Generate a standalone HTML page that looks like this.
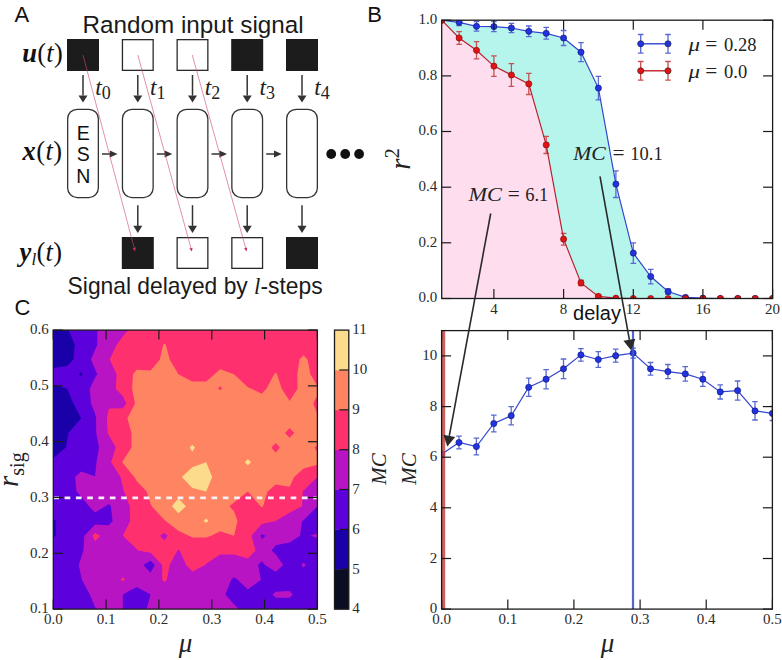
<!DOCTYPE html>
<html><head><meta charset="utf-8"><style>
html,body{margin:0;padding:0;background:#fff;}
svg{display:block;}
</style></head><body>
<svg width="782" height="660" viewBox="0 0 782 660">
<rect width="782" height="660" fill="#fff"/>
<rect x="53.3" y="330.1" width="264.1" height="279.0" fill="#5c00dc"/>
<path d="M89.8 594.4L95.0 607.0L97.0 609.1L108.9 609.1L122.8 609.1L122.8 594.4L122.8 594.4L136.7 587.1L150.6 594.4L150.6 594.4L150.6 594.4L146.6 609.1L150.6 609.1L164.5 609.1L178.4 609.1L192.3 609.1L206.2 609.1L220.1 609.1L234.0 609.1L238.6 609.1L234.0 604.2L225.3 594.4L231.2 579.7L234.0 577.3L237.5 579.7L247.9 589.5L260.9 579.7L258.1 565.0L261.8 561.2L265.0 565.0L275.7 571.8L283.3 565.0L275.7 554.3L271.5 550.4L275.7 545.2L289.6 542.5L300.0 535.7L302.2 521.0L303.5 520.3L317.4 506.3L317.4 506.3L317.4 491.6L317.4 476.9L317.4 462.3L317.4 447.6L317.4 432.9L317.4 418.2L317.4 403.5L317.4 388.8L317.4 374.2L317.4 359.5L317.4 344.8L317.4 330.1L303.5 330.1L289.6 330.1L275.7 330.1L261.8 330.1L247.9 330.1L234.0 330.1L220.1 330.1L206.2 330.1L192.3 330.1L178.4 330.1L164.5 330.1L150.6 330.1L136.7 330.1L122.8 330.1L108.9 330.1L97.3 330.1L97.3 344.8L95.0 349.7L91.0 359.5L95.0 369.3L97.3 374.2L95.0 377.8L89.8 388.8L91.0 403.5L95.0 413.3L96.1 418.2L96.2 432.9L99.0 447.6L96.5 462.3L95.0 476.2L81.1 471.4L75.1 476.9L76.5 491.6L81.1 496.5L89.0 506.3L95.0 512.6L105.4 506.3L108.9 503.9L110.9 506.3L112.6 521.0L108.9 525.2L95.0 524.4L84.4 535.7L83.4 550.4L81.1 557.7L78.8 565.0L81.1 576.3L81.9 579.7ZM150.6 572.7L143.3 565.0L150.6 560.7L154.7 565.0ZM261.8 539.1L260.5 535.7L261.8 534.2L265.6 535.7ZM272.5 594.4L275.7 597.8L289.6 597.8L292.8 594.4L289.6 591.0L275.7 591.8ZM301.2 565.0L303.5 567.5L305.8 565.0L303.5 562.6ZM310.4 535.7L317.4 538.1L317.4 535.7L317.4 533.2Z" fill="#b814c4" fill-rule="evenodd"/>
<path d="M120.5 579.7L122.8 581.1L125.1 579.7L122.8 577.3ZM162.2 579.7L164.5 582.2L166.8 579.7L169.7 565.0L177.4 550.4L178.4 549.8L179.7 550.4L186.1 565.0L192.3 571.6L205.2 565.0L206.2 563.7L220.1 554.6L234.0 554.6L247.9 558.4L255.5 550.4L251.5 535.7L261.8 524.0L275.7 521.0L275.7 521.0L289.6 512.8L302.0 506.3L302.8 491.6L303.5 490.5L317.4 476.9L317.4 476.9L317.4 462.3L317.4 447.6L317.4 432.9L317.4 418.2L317.4 403.5L317.4 388.8L317.4 374.2L317.4 359.5L317.4 344.8L317.4 330.1L303.5 330.1L289.6 330.1L275.7 330.1L261.8 330.1L247.9 330.1L234.0 330.1L220.1 330.1L206.2 330.1L192.3 330.1L178.4 330.1L164.5 330.1L150.6 330.1L136.7 330.1L128.0 330.1L122.8 336.4L116.6 344.8L109.7 359.5L116.6 374.2L115.8 388.8L122.8 396.2L126.3 403.5L122.8 408.2L108.9 408.4L106.8 418.2L107.7 432.9L108.9 435.3L115.8 447.6L111.1 462.3L120.5 476.9L122.8 486.7L124.1 491.6L129.8 506.3L130.2 521.0L122.8 535.7L136.7 549.0L138.0 550.4L150.6 552.7L162.2 565.0ZM164.5 540.6L159.9 535.7L164.5 533.1L167.6 535.7ZM92.5 535.7L95.0 541.2L100.2 535.7L95.0 533.1Z" fill="#ff306e" fill-rule="evenodd"/>
<path d="M188.8 535.7L192.3 537.5L206.2 537.5L211.3 535.7L220.1 531.3L234.0 535.7L237.5 521.0L234.0 511.2L229.4 506.3L234.0 502.6L247.9 491.6L247.9 491.6L247.9 491.6L260.5 506.3L261.8 507.3L263.1 506.3L267.5 491.6L275.7 484.4L289.6 486.7L294.2 476.9L303.5 468.6L317.4 464.7L317.4 462.3L317.4 452.5L314.6 447.6L317.4 445.1L317.4 432.9L317.4 418.2L317.4 414.1L313.2 403.5L317.4 395.2L317.4 388.8L317.4 385.9L310.4 374.2L307.5 359.5L303.5 355.3L299.5 359.5L297.3 374.2L297.5 388.8L289.6 401.1L281.7 388.8L277.0 374.2L275.7 372.5L274.2 374.2L266.4 388.8L261.8 393.7L251.4 388.8L247.9 387.2L234.0 374.2L234.0 374.2L220.1 369.3L214.5 374.2L206.2 381.5L192.3 381.5L178.4 374.2L178.4 374.2L169.7 359.5L165.8 344.8L164.5 343.4L163.2 344.8L159.9 359.5L150.6 370.5L136.7 369.7L133.0 374.2L132.1 388.8L135.0 403.5L127.4 418.2L131.5 432.9L131.5 447.6L122.8 460.9L122.2 462.3L122.8 463.0L134.2 476.9L136.7 481.1L146.6 491.6L150.6 503.4L151.7 506.3L164.5 519.9L165.6 521.0L178.4 530.8ZM220.1 390.2L218.1 388.8L220.1 385.9L222.1 388.8ZM275.7 452.8L271.5 447.6L275.7 443.1L279.9 447.6ZM289.6 437.8L285.0 432.9L289.6 428.0L294.2 432.9Z" fill="#ff8462" fill-rule="evenodd"/>
<path d="M203.5 521.0L206.2 522.7L208.5 521.0L206.2 518.5ZM171.9 506.3L178.4 513.2L185.9 506.3L178.4 498.4ZM181.9 476.9L192.3 488.0L206.2 491.6L212.2 476.9L206.2 462.3L192.3 467.2ZM244.7 462.3L247.9 465.2L251.1 462.3L247.9 458.9ZM189.6 447.6L192.3 451.8L195.0 447.6L192.3 444.7Z" fill="#fcdc8c" fill-rule="evenodd"/>
<path d="M53.3 535.7L53.3 538.1L55.6 535.7L55.6 521.0L53.3 518.5L53.3 521.0ZM53.3 447.6L53.3 458.1L65.9 447.6L67.2 440.2L68.5 432.9L81.1 418.2L81.1 418.2L81.1 418.2L73.4 403.5L67.2 388.8L67.2 388.8L53.3 384.6L53.3 388.8L53.3 403.5L53.3 418.2L53.3 432.9ZM78.8 374.2L81.1 376.6L82.5 374.2L81.1 371.7ZM53.3 359.5L53.3 368.0L67.2 366.0L73.4 359.5L74.8 344.8L68.5 330.1L67.2 330.1L53.3 330.1L53.3 344.8Z" fill="#1a00a8" fill-rule="evenodd"/>
<line x1="53.3" y1="497.9" x2="317.4" y2="497.9" stroke="#f6f0f6" stroke-width="2.6" stroke-dasharray="5.7 5.6"/>
<rect x="53.3" y="330.1" width="264.1" height="279.0" fill="none" stroke="#1a1a1a" stroke-width="1.3"/>
<line x1="53.3" y1="609.1" x2="53.3" y2="599.6" stroke="#1a1a1a" stroke-width="1.2"/>
<line x1="53.3" y1="330.1" x2="53.3" y2="339.6" stroke="#1a1a1a" stroke-width="1.2"/>
<text x="53.30" y="623.80" font-family='"Liberation Serif", serif' font-size="15" text-anchor="middle"  font-weight="normal" fill="#2a2a2a" >0.0</text>
<line x1="106.1" y1="609.1" x2="106.1" y2="599.6" stroke="#1a1a1a" stroke-width="1.2"/>
<line x1="106.1" y1="330.1" x2="106.1" y2="339.6" stroke="#1a1a1a" stroke-width="1.2"/>
<text x="106.12" y="623.80" font-family='"Liberation Serif", serif' font-size="15" text-anchor="middle"  font-weight="normal" fill="#2a2a2a" >0.1</text>
<line x1="158.9" y1="609.1" x2="158.9" y2="599.6" stroke="#1a1a1a" stroke-width="1.2"/>
<line x1="158.9" y1="330.1" x2="158.9" y2="339.6" stroke="#1a1a1a" stroke-width="1.2"/>
<text x="158.94" y="623.80" font-family='"Liberation Serif", serif' font-size="15" text-anchor="middle"  font-weight="normal" fill="#2a2a2a" >0.2</text>
<line x1="211.8" y1="609.1" x2="211.8" y2="599.6" stroke="#1a1a1a" stroke-width="1.2"/>
<line x1="211.8" y1="330.1" x2="211.8" y2="339.6" stroke="#1a1a1a" stroke-width="1.2"/>
<text x="211.76" y="623.80" font-family='"Liberation Serif", serif' font-size="15" text-anchor="middle"  font-weight="normal" fill="#2a2a2a" >0.3</text>
<line x1="264.6" y1="609.1" x2="264.6" y2="599.6" stroke="#1a1a1a" stroke-width="1.2"/>
<line x1="264.6" y1="330.1" x2="264.6" y2="339.6" stroke="#1a1a1a" stroke-width="1.2"/>
<text x="264.58" y="623.80" font-family='"Liberation Serif", serif' font-size="15" text-anchor="middle"  font-weight="normal" fill="#2a2a2a" >0.4</text>
<line x1="317.4" y1="609.1" x2="317.4" y2="599.6" stroke="#1a1a1a" stroke-width="1.2"/>
<line x1="317.4" y1="330.1" x2="317.4" y2="339.6" stroke="#1a1a1a" stroke-width="1.2"/>
<text x="317.40" y="623.80" font-family='"Liberation Serif", serif' font-size="15" text-anchor="middle"  font-weight="normal" fill="#2a2a2a" >0.5</text>
<line x1="53.3" y1="609.1" x2="62.8" y2="609.1" stroke="#1a1a1a" stroke-width="1.2"/>
<line x1="317.4" y1="609.1" x2="307.9" y2="609.1" stroke="#1a1a1a" stroke-width="1.2"/>
<text x="48.80" y="613.40" font-family='"Liberation Serif", serif' font-size="15" text-anchor="end"  font-weight="normal" fill="#2a2a2a" >0.1</text>
<line x1="53.3" y1="553.3" x2="62.8" y2="553.3" stroke="#1a1a1a" stroke-width="1.2"/>
<line x1="317.4" y1="553.3" x2="307.9" y2="553.3" stroke="#1a1a1a" stroke-width="1.2"/>
<text x="48.80" y="557.60" font-family='"Liberation Serif", serif' font-size="15" text-anchor="end"  font-weight="normal" fill="#2a2a2a" >0.2</text>
<line x1="53.3" y1="497.5" x2="62.8" y2="497.5" stroke="#1a1a1a" stroke-width="1.2"/>
<line x1="317.4" y1="497.5" x2="307.9" y2="497.5" stroke="#1a1a1a" stroke-width="1.2"/>
<text x="48.80" y="501.80" font-family='"Liberation Serif", serif' font-size="15" text-anchor="end"  font-weight="normal" fill="#2a2a2a" >0.3</text>
<line x1="53.3" y1="441.7" x2="62.8" y2="441.7" stroke="#1a1a1a" stroke-width="1.2"/>
<line x1="317.4" y1="441.7" x2="307.9" y2="441.7" stroke="#1a1a1a" stroke-width="1.2"/>
<text x="48.80" y="446.00" font-family='"Liberation Serif", serif' font-size="15" text-anchor="end"  font-weight="normal" fill="#2a2a2a" >0.4</text>
<line x1="53.3" y1="385.9" x2="62.8" y2="385.9" stroke="#1a1a1a" stroke-width="1.2"/>
<line x1="317.4" y1="385.9" x2="307.9" y2="385.9" stroke="#1a1a1a" stroke-width="1.2"/>
<text x="48.80" y="390.20" font-family='"Liberation Serif", serif' font-size="15" text-anchor="end"  font-weight="normal" fill="#2a2a2a" >0.5</text>
<line x1="53.3" y1="330.1" x2="62.8" y2="330.1" stroke="#1a1a1a" stroke-width="1.2"/>
<line x1="317.4" y1="330.1" x2="307.9" y2="330.1" stroke="#1a1a1a" stroke-width="1.2"/>
<text x="48.80" y="334.40" font-family='"Liberation Serif", serif' font-size="15" text-anchor="end"  font-weight="normal" fill="#2a2a2a" >0.6</text>
<rect x="334.5" y="569.2" width="14.3" height="40.2" fill="#0b0d22"/>
<rect x="334.5" y="529.4" width="14.3" height="40.2" fill="#1a00a8"/>
<rect x="334.5" y="489.5" width="14.3" height="40.2" fill="#5c00dc"/>
<rect x="334.5" y="449.7" width="14.3" height="40.2" fill="#b814c4"/>
<rect x="334.5" y="409.8" width="14.3" height="40.2" fill="#ff306e"/>
<rect x="334.5" y="370.0" width="14.3" height="40.2" fill="#ff8462"/>
<rect x="334.5" y="330.1" width="14.3" height="40.2" fill="#fcdc8c"/>
<rect x="334.5" y="330.1" width="14.3" height="279.0" fill="none" stroke="#1a1a1a" stroke-width="1.3"/>
<text x="352.30" y="613.40" font-family='"Liberation Serif", serif' font-size="15" text-anchor="start"  font-weight="normal" fill="#2a2a2a" >4</text>
<line x1="339.3" y1="569.2" x2="348.8" y2="569.2" stroke="#1a1a1a" stroke-width="1.2"/>
<text x="352.30" y="573.54" font-family='"Liberation Serif", serif' font-size="15" text-anchor="start"  font-weight="normal" fill="#2a2a2a" >5</text>
<line x1="339.3" y1="529.4" x2="348.8" y2="529.4" stroke="#1a1a1a" stroke-width="1.2"/>
<text x="352.30" y="533.69" font-family='"Liberation Serif", serif' font-size="15" text-anchor="start"  font-weight="normal" fill="#2a2a2a" >6</text>
<line x1="339.3" y1="489.5" x2="348.8" y2="489.5" stroke="#1a1a1a" stroke-width="1.2"/>
<text x="352.30" y="493.83" font-family='"Liberation Serif", serif' font-size="15" text-anchor="start"  font-weight="normal" fill="#2a2a2a" >7</text>
<line x1="339.3" y1="449.7" x2="348.8" y2="449.7" stroke="#1a1a1a" stroke-width="1.2"/>
<text x="352.30" y="453.97" font-family='"Liberation Serif", serif' font-size="15" text-anchor="start"  font-weight="normal" fill="#2a2a2a" >8</text>
<line x1="339.3" y1="409.8" x2="348.8" y2="409.8" stroke="#1a1a1a" stroke-width="1.2"/>
<text x="352.30" y="414.11" font-family='"Liberation Serif", serif' font-size="15" text-anchor="start"  font-weight="normal" fill="#2a2a2a" >9</text>
<line x1="339.3" y1="370.0" x2="348.8" y2="370.0" stroke="#1a1a1a" stroke-width="1.2"/>
<text x="352.30" y="374.26" font-family='"Liberation Serif", serif' font-size="15" text-anchor="start"  font-weight="normal" fill="#2a2a2a" >10</text>
<text x="352.30" y="334.40" font-family='"Liberation Serif", serif' font-size="15" text-anchor="start"  font-weight="normal" fill="#2a2a2a" >11</text>
<text x="0.00" y="0.00" font-family='"Liberation Serif", serif' font-size="1" text-anchor="start"  font-weight="normal" fill="#222" ></text>
<text transform="translate(385.5,469) rotate(-90)" font-family='"Liberation Serif", serif' font-size="21" font-style="italic" text-anchor="middle" fill="#222">MC</text>
<text x="185.5" y="652.2" font-family='"Liberation Serif", serif' font-size="27" font-style="italic" text-anchor="middle" fill="#222">μ</text>
<text transform="translate(17.5,487) rotate(-90)" font-family='"Liberation Serif", serif' font-size="29" fill="#222"><tspan font-style="italic">r</tspan><tspan font-size="20" dy="6">sig</tspan></text>
<text x="14.50" y="314.50" font-family='"Liberation Sans", sans-serif' font-size="22" text-anchor="start"  font-weight="normal" fill="#111" >C</text>
<defs><clipPath id="clipB"><rect x="441.7" y="20.2" width="330.9" height="278.3"/></clipPath><clipPath id="clipD"><rect x="441.6" y="330.6" width="330.8" height="278.5"/></clipPath></defs>
<g clip-path="url(#clipB)">
<polygon points="441.7,20.2 459.1,38.0 476.5,50.3 493.9,66.1 511.4,75.0 528.8,83.9 546.2,144.9 563.6,239.2 581.0,282.9 598.4,296.4 615.9,298.2 633.3,298.5 650.7,298.5 668.1,298.5 685.5,298.5 702.9,298.5 720.4,298.5 737.8,298.5 755.2,298.5 772.6,298.5 772.6,298.5 441.7,298.5" fill="#fedeee"/>
<polygon points="441.7,20.2 459.1,22.3 476.5,26.3 493.9,26.6 511.4,28.0 528.8,31.3 546.2,33.3 563.6,38.0 581.0,52.2 598.4,88.1 615.9,184.1 633.3,253.1 650.7,276.5 668.1,291.5 685.5,297.4 702.9,298.2 720.4,298.5 737.8,298.5 755.2,298.5 772.6,298.5 772.6,298.5 755.2,298.5 737.8,298.5 720.4,298.5 702.9,298.5 685.5,298.5 668.1,298.5 650.7,298.5 633.3,298.5 615.9,298.2 598.4,296.4 581.0,282.9 563.6,239.2 546.2,144.9 528.8,83.9 511.4,75.0 493.9,66.1 476.5,50.3 459.1,38.0 441.7,20.2" fill="#b6f5ec"/>
<path d="M459.1 18.9V25.6M456.3 18.9h5.6M456.3 25.6h5.6" stroke="#5a6ad2" stroke-width="1.3" fill="none"/>
<path d="M476.5 21.6V31.1M473.7 21.6h5.6M473.7 31.1h5.6" stroke="#5a6ad2" stroke-width="1.3" fill="none"/>
<path d="M493.9 21.6V31.6M491.1 21.6h5.6M491.1 31.6h5.6" stroke="#5a6ad2" stroke-width="1.3" fill="none"/>
<path d="M511.4 23.3V32.7M508.6 23.3h5.6M508.6 32.7h5.6" stroke="#5a6ad2" stroke-width="1.3" fill="none"/>
<path d="M528.8 26.0V36.6M526.0 26.0h5.6M526.0 36.6h5.6" stroke="#5a6ad2" stroke-width="1.3" fill="none"/>
<path d="M546.2 27.4V39.1M543.4 27.4h5.6M543.4 39.1h5.6" stroke="#5a6ad2" stroke-width="1.3" fill="none"/>
<path d="M563.6 30.5V45.5M560.8 30.5h5.6M560.8 45.5h5.6" stroke="#5a6ad2" stroke-width="1.3" fill="none"/>
<path d="M581.0 42.7V61.7M578.2 42.7h5.6M578.2 61.7h5.6" stroke="#5a6ad2" stroke-width="1.3" fill="none"/>
<path d="M598.4 76.4V99.8M595.6 76.4h5.6M595.6 99.8h5.6" stroke="#5a6ad2" stroke-width="1.3" fill="none"/>
<path d="M615.9 170.8V197.5M613.1 170.8h5.6M613.1 197.5h5.6" stroke="#5a6ad2" stroke-width="1.3" fill="none"/>
<path d="M633.3 242.8V263.4M630.5 242.8h5.6M630.5 263.4h5.6" stroke="#5a6ad2" stroke-width="1.3" fill="none"/>
<path d="M650.7 269.3V283.8M647.9 269.3h5.6M647.9 283.8h5.6" stroke="#5a6ad2" stroke-width="1.3" fill="none"/>
<path d="M668.1 288.8V294.3M665.3 288.8h5.6M665.3 294.3h5.6" stroke="#5a6ad2" stroke-width="1.3" fill="none"/>
<path d="M685.5 296.3V298.5M682.7 296.3h5.6M682.7 298.5h5.6" stroke="#5a6ad2" stroke-width="1.3" fill="none"/>
<polyline points="441.7,20.2 459.1,22.3 476.5,26.3 493.9,26.6 511.4,28.0 528.8,31.3 546.2,33.3 563.6,38.0 581.0,52.2 598.4,88.1 615.9,184.1 633.3,253.1 650.7,276.5 668.1,291.5 685.5,297.4 702.9,298.2 720.4,298.5 737.8,298.5 755.2,298.5 772.6,298.5" fill="none" stroke="#3446d0" stroke-width="1.2"/>
<circle cx="441.7" cy="20.2" r="3.1" fill="#2233e0" stroke="#0a1070" stroke-width="0.6"/>
<circle cx="459.1" cy="22.3" r="3.1" fill="#2233e0" stroke="#0a1070" stroke-width="0.6"/>
<circle cx="476.5" cy="26.3" r="3.1" fill="#2233e0" stroke="#0a1070" stroke-width="0.6"/>
<circle cx="493.9" cy="26.6" r="3.1" fill="#2233e0" stroke="#0a1070" stroke-width="0.6"/>
<circle cx="511.4" cy="28.0" r="3.1" fill="#2233e0" stroke="#0a1070" stroke-width="0.6"/>
<circle cx="528.8" cy="31.3" r="3.1" fill="#2233e0" stroke="#0a1070" stroke-width="0.6"/>
<circle cx="546.2" cy="33.3" r="3.1" fill="#2233e0" stroke="#0a1070" stroke-width="0.6"/>
<circle cx="563.6" cy="38.0" r="3.1" fill="#2233e0" stroke="#0a1070" stroke-width="0.6"/>
<circle cx="581.0" cy="52.2" r="3.1" fill="#2233e0" stroke="#0a1070" stroke-width="0.6"/>
<circle cx="598.4" cy="88.1" r="3.1" fill="#2233e0" stroke="#0a1070" stroke-width="0.6"/>
<circle cx="615.9" cy="184.1" r="3.1" fill="#2233e0" stroke="#0a1070" stroke-width="0.6"/>
<circle cx="633.3" cy="253.1" r="3.1" fill="#2233e0" stroke="#0a1070" stroke-width="0.6"/>
<circle cx="650.7" cy="276.5" r="3.1" fill="#2233e0" stroke="#0a1070" stroke-width="0.6"/>
<circle cx="668.1" cy="291.5" r="3.1" fill="#2233e0" stroke="#0a1070" stroke-width="0.6"/>
<circle cx="685.5" cy="297.4" r="3.1" fill="#2233e0" stroke="#0a1070" stroke-width="0.6"/>
<circle cx="702.9" cy="298.2" r="3.1" fill="#2233e0" stroke="#0a1070" stroke-width="0.6"/>
<circle cx="720.4" cy="298.5" r="3.1" fill="#2233e0" stroke="#0a1070" stroke-width="0.6"/>
<circle cx="737.8" cy="298.5" r="3.1" fill="#2233e0" stroke="#0a1070" stroke-width="0.6"/>
<circle cx="755.2" cy="298.5" r="3.1" fill="#2233e0" stroke="#0a1070" stroke-width="0.6"/>
<circle cx="772.6" cy="298.5" r="3.1" fill="#2233e0" stroke="#0a1070" stroke-width="0.6"/>
<path d="M459.1 31.6V44.4M456.3 31.6h5.6M456.3 44.4h5.6" stroke="#c85050" stroke-width="1.3" fill="none"/>
<path d="M476.5 41.6V58.9M473.7 41.6h5.6M473.7 58.9h5.6" stroke="#c85050" stroke-width="1.3" fill="none"/>
<path d="M493.9 55.8V76.4M491.1 55.8h5.6M491.1 76.4h5.6" stroke="#c85050" stroke-width="1.3" fill="none"/>
<path d="M511.4 63.6V86.4M508.6 63.6h5.6M508.6 86.4h5.6" stroke="#c85050" stroke-width="1.3" fill="none"/>
<path d="M528.8 73.4V94.5M526.0 73.4h5.6M526.0 94.5h5.6" stroke="#c85050" stroke-width="1.3" fill="none"/>
<path d="M546.2 136.3V153.5M543.4 136.3h5.6M543.4 153.5h5.6" stroke="#c85050" stroke-width="1.3" fill="none"/>
<path d="M563.6 233.4V245.1M560.8 233.4h5.6M560.8 245.1h5.6" stroke="#c85050" stroke-width="1.3" fill="none"/>
<path d="M581.0 280.1V285.7M578.2 280.1h5.6M578.2 285.7h5.6" stroke="#c85050" stroke-width="1.3" fill="none"/>
<path d="M598.4 295.3V297.5M595.6 295.3h5.6M595.6 297.5h5.6" stroke="#c85050" stroke-width="1.3" fill="none"/>
<polyline points="441.7,20.2 459.1,38.0 476.5,50.3 493.9,66.1 511.4,75.0 528.8,83.9 546.2,144.9 563.6,239.2 581.0,282.9 598.4,296.4 615.9,298.2 633.3,298.5 650.7,298.5 668.1,298.5 685.5,298.5 702.9,298.5 720.4,298.5 737.8,298.5 755.2,298.5 772.6,298.5" fill="none" stroke="#b82030" stroke-width="1.2"/>
<circle cx="441.7" cy="20.2" r="3.1" fill="#e01414" stroke="#7a0a0a" stroke-width="0.6"/>
<circle cx="459.1" cy="38.0" r="3.1" fill="#e01414" stroke="#7a0a0a" stroke-width="0.6"/>
<circle cx="476.5" cy="50.3" r="3.1" fill="#e01414" stroke="#7a0a0a" stroke-width="0.6"/>
<circle cx="493.9" cy="66.1" r="3.1" fill="#e01414" stroke="#7a0a0a" stroke-width="0.6"/>
<circle cx="511.4" cy="75.0" r="3.1" fill="#e01414" stroke="#7a0a0a" stroke-width="0.6"/>
<circle cx="528.8" cy="83.9" r="3.1" fill="#e01414" stroke="#7a0a0a" stroke-width="0.6"/>
<circle cx="546.2" cy="144.9" r="3.1" fill="#e01414" stroke="#7a0a0a" stroke-width="0.6"/>
<circle cx="563.6" cy="239.2" r="3.1" fill="#e01414" stroke="#7a0a0a" stroke-width="0.6"/>
<circle cx="581.0" cy="282.9" r="3.1" fill="#e01414" stroke="#7a0a0a" stroke-width="0.6"/>
<circle cx="598.4" cy="296.4" r="3.1" fill="#e01414" stroke="#7a0a0a" stroke-width="0.6"/>
<circle cx="615.9" cy="298.2" r="3.1" fill="#e01414" stroke="#7a0a0a" stroke-width="0.6"/>
<circle cx="633.3" cy="298.5" r="3.1" fill="#e01414" stroke="#7a0a0a" stroke-width="0.6"/>
<circle cx="650.7" cy="298.5" r="3.1" fill="#e01414" stroke="#7a0a0a" stroke-width="0.6"/>
<circle cx="668.1" cy="298.5" r="3.1" fill="#e01414" stroke="#7a0a0a" stroke-width="0.6"/>
<circle cx="685.5" cy="298.5" r="3.1" fill="#e01414" stroke="#7a0a0a" stroke-width="0.6"/>
<circle cx="702.9" cy="298.5" r="3.1" fill="#e01414" stroke="#7a0a0a" stroke-width="0.6"/>
<circle cx="720.4" cy="298.5" r="3.1" fill="#e01414" stroke="#7a0a0a" stroke-width="0.6"/>
<circle cx="737.8" cy="298.5" r="3.1" fill="#e01414" stroke="#7a0a0a" stroke-width="0.6"/>
<circle cx="755.2" cy="298.5" r="3.1" fill="#e01414" stroke="#7a0a0a" stroke-width="0.6"/>
<circle cx="772.6" cy="298.5" r="3.1" fill="#e01414" stroke="#7a0a0a" stroke-width="0.6"/>
</g>
<rect x="441.7" y="20.2" width="330.9" height="278.3" fill="none" stroke="#1a1a1a" stroke-width="1.3"/>
<line x1="441.7" y1="298.5" x2="451.2" y2="298.5" stroke="#1a1a1a" stroke-width="1.2"/>
<line x1="772.6" y1="298.5" x2="763.1" y2="298.5" stroke="#1a1a1a" stroke-width="1.2"/>
<text x="437.20" y="302.40" font-family='"Liberation Serif", serif' font-size="15" text-anchor="end"  font-weight="normal" fill="#2a2a2a" >0.0</text>
<line x1="441.7" y1="242.8" x2="451.2" y2="242.8" stroke="#1a1a1a" stroke-width="1.2"/>
<line x1="772.6" y1="242.8" x2="763.1" y2="242.8" stroke="#1a1a1a" stroke-width="1.2"/>
<text x="437.20" y="246.74" font-family='"Liberation Serif", serif' font-size="15" text-anchor="end"  font-weight="normal" fill="#2a2a2a" >0.2</text>
<line x1="441.7" y1="187.2" x2="451.2" y2="187.2" stroke="#1a1a1a" stroke-width="1.2"/>
<line x1="772.6" y1="187.2" x2="763.1" y2="187.2" stroke="#1a1a1a" stroke-width="1.2"/>
<text x="437.20" y="191.08" font-family='"Liberation Serif", serif' font-size="15" text-anchor="end"  font-weight="normal" fill="#2a2a2a" >0.4</text>
<line x1="441.7" y1="131.5" x2="451.2" y2="131.5" stroke="#1a1a1a" stroke-width="1.2"/>
<line x1="772.6" y1="131.5" x2="763.1" y2="131.5" stroke="#1a1a1a" stroke-width="1.2"/>
<text x="437.20" y="135.42" font-family='"Liberation Serif", serif' font-size="15" text-anchor="end"  font-weight="normal" fill="#2a2a2a" >0.6</text>
<line x1="441.7" y1="75.9" x2="451.2" y2="75.9" stroke="#1a1a1a" stroke-width="1.2"/>
<line x1="772.6" y1="75.9" x2="763.1" y2="75.9" stroke="#1a1a1a" stroke-width="1.2"/>
<text x="437.20" y="79.76" font-family='"Liberation Serif", serif' font-size="15" text-anchor="end"  font-weight="normal" fill="#2a2a2a" >0.8</text>
<line x1="441.7" y1="20.2" x2="451.2" y2="20.2" stroke="#1a1a1a" stroke-width="1.2"/>
<line x1="772.6" y1="20.2" x2="763.1" y2="20.2" stroke="#1a1a1a" stroke-width="1.2"/>
<text x="437.20" y="24.10" font-family='"Liberation Serif", serif' font-size="15" text-anchor="end"  font-weight="normal" fill="#2a2a2a" >1.0</text>
<line x1="493.9" y1="298.5" x2="493.9" y2="289.0" stroke="#1a1a1a" stroke-width="1.2"/>
<line x1="493.9" y1="20.2" x2="493.9" y2="29.7" stroke="#1a1a1a" stroke-width="1.2"/>
<text x="493.95" y="313.50" font-family='"Liberation Serif", serif' font-size="15" text-anchor="middle"  font-weight="normal" fill="#2a2a2a" >4</text>
<line x1="563.6" y1="298.5" x2="563.6" y2="289.0" stroke="#1a1a1a" stroke-width="1.2"/>
<line x1="563.6" y1="20.2" x2="563.6" y2="29.7" stroke="#1a1a1a" stroke-width="1.2"/>
<text x="563.61" y="313.50" font-family='"Liberation Serif", serif' font-size="15" text-anchor="middle"  font-weight="normal" fill="#2a2a2a" >8</text>
<line x1="633.3" y1="298.5" x2="633.3" y2="289.0" stroke="#1a1a1a" stroke-width="1.2"/>
<line x1="633.3" y1="20.2" x2="633.3" y2="29.7" stroke="#1a1a1a" stroke-width="1.2"/>
<text x="633.27" y="313.50" font-family='"Liberation Serif", serif' font-size="15" text-anchor="middle"  font-weight="normal" fill="#2a2a2a" >12</text>
<line x1="702.9" y1="298.5" x2="702.9" y2="289.0" stroke="#1a1a1a" stroke-width="1.2"/>
<line x1="702.9" y1="20.2" x2="702.9" y2="29.7" stroke="#1a1a1a" stroke-width="1.2"/>
<text x="702.94" y="313.50" font-family='"Liberation Serif", serif' font-size="15" text-anchor="middle"  font-weight="normal" fill="#2a2a2a" >16</text>
<line x1="772.6" y1="298.5" x2="772.6" y2="289.0" stroke="#1a1a1a" stroke-width="1.2"/>
<line x1="772.6" y1="20.2" x2="772.6" y2="29.7" stroke="#1a1a1a" stroke-width="1.2"/>
<text x="772.60" y="313.50" font-family='"Liberation Serif", serif' font-size="15" text-anchor="middle"  font-weight="normal" fill="#2a2a2a" >20</text>
<text x="597.00" y="320.00" font-family='"Liberation Sans", sans-serif' font-size="20" text-anchor="middle"  font-weight="normal" fill="#111" >delay</text>
<text transform="translate(409.5,159) rotate(-90)" font-family='"Liberation Serif", serif' font-size="29" fill="#222" text-anchor="middle"><tspan font-style="italic">r</tspan><tspan font-size="20" dy="-11">2</tspan></text>
<text x="374.50" y="22.00" font-family='"Liberation Sans", sans-serif' font-size="22" text-anchor="middle"  font-weight="normal" fill="#111" >B</text>
<line x1="640.7" y1="43.8" x2="668" y2="43.8" stroke="#2a46d0" stroke-width="1.4"/>
<path d="M640.7 34.5V53.099999999999994M637.9000000000001 34.5h5.6M637.9000000000001 53.099999999999994h5.6" stroke="#5a6ad2" stroke-width="1.3"/>
<circle cx="640.7" cy="43.8" r="3.1" fill="#2233e0" stroke="#222" stroke-width="0.6"/>
<path d="M668 34.5V53.099999999999994M665.2 34.5h5.6M665.2 53.099999999999994h5.6" stroke="#5a6ad2" stroke-width="1.3"/>
<circle cx="668" cy="43.8" r="3.1" fill="#2233e0" stroke="#222" stroke-width="0.6"/>
<line x1="640.7" y1="70.8" x2="668" y2="70.8" stroke="#c02020" stroke-width="1.4"/>
<path d="M640.7 61.5V80.1M637.9000000000001 61.5h5.6M637.9000000000001 80.1h5.6" stroke="#c85050" stroke-width="1.3"/>
<circle cx="640.7" cy="70.8" r="3.1" fill="#e01414" stroke="#222" stroke-width="0.6"/>
<path d="M668 61.5V80.1M665.2 61.5h5.6M665.2 80.1h5.6" stroke="#c85050" stroke-width="1.3"/>
<circle cx="668" cy="70.8" r="3.1" fill="#e01414" stroke="#222" stroke-width="0.6"/>
<text x="688.6" y="51.3" font-family='"Liberation Serif", serif' font-size="19" font-style="italic" fill="#222" textLength="11.5" lengthAdjust="spacingAndGlyphs">μ</text>
<text x="705.3" y="51.3" font-family='"Liberation Serif", serif' font-size="20" fill="#222" textLength="12" lengthAdjust="spacingAndGlyphs">=</text>
<text x="724.0" y="51.3" font-family='"Liberation Serif", serif' font-size="18.5" fill="#222">0.28</text>
<text x="688.6" y="77.8" font-family='"Liberation Serif", serif' font-size="19" font-style="italic" fill="#222" textLength="11.5" lengthAdjust="spacingAndGlyphs">μ</text>
<text x="705.3" y="77.8" font-family='"Liberation Serif", serif' font-size="20" fill="#222" textLength="12" lengthAdjust="spacingAndGlyphs">=</text>
<text x="724.0" y="77.8" font-family='"Liberation Serif", serif' font-size="18.5" fill="#222">0.0</text>
<text x="468.5" y="201.3" font-family='"Liberation Serif", serif' font-size="19" font-style="italic" fill="#222" textLength="33.5" lengthAdjust="spacingAndGlyphs">MC</text>
<text x="507.8" y="201.3" font-family='"Liberation Serif", serif' font-size="20" fill="#222" textLength="12" lengthAdjust="spacingAndGlyphs">=</text>
<text x="525.2" y="201.3" font-family='"Liberation Serif", serif' font-size="18.5" fill="#222">6.1</text>
<text x="573.2" y="160" font-family='"Liberation Serif", serif' font-size="19" font-style="italic" fill="#222" textLength="32.5" lengthAdjust="spacingAndGlyphs">MC</text>
<text x="612.5" y="160" font-family='"Liberation Serif", serif' font-size="20" fill="#222" textLength="12" lengthAdjust="spacingAndGlyphs">=</text>
<text x="630.3" y="160" font-family='"Liberation Serif", serif' font-size="18.5" fill="#222">10.1</text>
<g clip-path="url(#clipD)">
<path d="M441.6 451.6V456.7M438.8 451.6h5.6M438.8 456.7h5.6" stroke="#5a6ad2" stroke-width="1.3" fill="none"/>
<path d="M459.0 436.2V448.8M456.2 436.2h5.6M456.2 448.8h5.6" stroke="#5a6ad2" stroke-width="1.3" fill="none"/>
<path d="M476.4 438.2V454.9M473.6 438.2h5.6M473.6 454.9h5.6" stroke="#5a6ad2" stroke-width="1.3" fill="none"/>
<path d="M493.8 415.2V431.9M491.0 415.2h5.6M491.0 431.9h5.6" stroke="#5a6ad2" stroke-width="1.3" fill="none"/>
<path d="M511.2 406.6V424.8M508.4 406.6h5.6M508.4 424.8h5.6" stroke="#5a6ad2" stroke-width="1.3" fill="none"/>
<path d="M528.7 378.2V396.4M525.9 378.2h5.6M525.9 396.4h5.6" stroke="#5a6ad2" stroke-width="1.3" fill="none"/>
<path d="M546.1 369.6V388.8M543.3 369.6h5.6M543.3 388.8h5.6" stroke="#5a6ad2" stroke-width="1.3" fill="none"/>
<path d="M563.5 359.0V378.7M560.7 359.0h5.6M560.7 378.7h5.6" stroke="#5a6ad2" stroke-width="1.3" fill="none"/>
<path d="M580.9 348.6V361.2M578.1 348.6h5.6M578.1 361.2h5.6" stroke="#5a6ad2" stroke-width="1.3" fill="none"/>
<path d="M598.3 351.6V367.3M595.5 351.6h5.6M595.5 367.3h5.6" stroke="#5a6ad2" stroke-width="1.3" fill="none"/>
<path d="M615.7 349.1V362.2M612.9 349.1h5.6M612.9 362.2h5.6" stroke="#5a6ad2" stroke-width="1.3" fill="none"/>
<path d="M633.1 348.1V358.2M630.3 348.1h5.6M630.3 358.2h5.6" stroke="#5a6ad2" stroke-width="1.3" fill="none"/>
<path d="M650.5 362.5V375.2M647.7 362.5h5.6M647.7 375.2h5.6" stroke="#5a6ad2" stroke-width="1.3" fill="none"/>
<path d="M667.9 364.5V378.7M665.1 364.5h5.6M665.1 378.7h5.6" stroke="#5a6ad2" stroke-width="1.3" fill="none"/>
<path d="M685.3 366.6V381.2M682.5 366.6h5.6M682.5 381.2h5.6" stroke="#5a6ad2" stroke-width="1.3" fill="none"/>
<path d="M702.8 372.1V386.3M700.0 372.1h5.6M700.0 386.3h5.6" stroke="#5a6ad2" stroke-width="1.3" fill="none"/>
<path d="M720.2 384.8V399.0M717.4 384.8h5.6M717.4 399.0h5.6" stroke="#5a6ad2" stroke-width="1.3" fill="none"/>
<path d="M737.6 381.0V400.2M734.8 381.0h5.6M734.8 400.2h5.6" stroke="#5a6ad2" stroke-width="1.3" fill="none"/>
<path d="M755.0 401.7V420.0M752.2 401.7h5.6M752.2 420.0h5.6" stroke="#5a6ad2" stroke-width="1.3" fill="none"/>
<path d="M772.4 406.3V420.5M769.6 406.3h5.6M769.6 420.5h5.6" stroke="#5a6ad2" stroke-width="1.3" fill="none"/>
<polyline points="441.6,454.2 459.0,442.5 476.4,446.6 493.8,423.5 511.2,415.7 528.7,387.3 546.1,379.2 563.5,368.8 580.9,354.9 598.3,359.5 615.7,355.7 633.1,353.1 650.5,368.8 667.9,371.6 685.3,373.9 702.8,379.2 720.2,391.9 737.6,390.6 755.0,410.9 772.4,413.4" fill="none" stroke="#3446d0" stroke-width="1.2"/>
<circle cx="441.6" cy="454.2" r="3.1" fill="#2233e0" stroke="#0a1070" stroke-width="0.6"/>
<circle cx="459.0" cy="442.5" r="3.1" fill="#2233e0" stroke="#0a1070" stroke-width="0.6"/>
<circle cx="476.4" cy="446.6" r="3.1" fill="#2233e0" stroke="#0a1070" stroke-width="0.6"/>
<circle cx="493.8" cy="423.5" r="3.1" fill="#2233e0" stroke="#0a1070" stroke-width="0.6"/>
<circle cx="511.2" cy="415.7" r="3.1" fill="#2233e0" stroke="#0a1070" stroke-width="0.6"/>
<circle cx="528.7" cy="387.3" r="3.1" fill="#2233e0" stroke="#0a1070" stroke-width="0.6"/>
<circle cx="546.1" cy="379.2" r="3.1" fill="#2233e0" stroke="#0a1070" stroke-width="0.6"/>
<circle cx="563.5" cy="368.8" r="3.1" fill="#2233e0" stroke="#0a1070" stroke-width="0.6"/>
<circle cx="580.9" cy="354.9" r="3.1" fill="#2233e0" stroke="#0a1070" stroke-width="0.6"/>
<circle cx="598.3" cy="359.5" r="3.1" fill="#2233e0" stroke="#0a1070" stroke-width="0.6"/>
<circle cx="615.7" cy="355.7" r="3.1" fill="#2233e0" stroke="#0a1070" stroke-width="0.6"/>
<circle cx="633.1" cy="353.1" r="3.1" fill="#2233e0" stroke="#0a1070" stroke-width="0.6"/>
<circle cx="650.5" cy="368.8" r="3.1" fill="#2233e0" stroke="#0a1070" stroke-width="0.6"/>
<circle cx="667.9" cy="371.6" r="3.1" fill="#2233e0" stroke="#0a1070" stroke-width="0.6"/>
<circle cx="685.3" cy="373.9" r="3.1" fill="#2233e0" stroke="#0a1070" stroke-width="0.6"/>
<circle cx="702.8" cy="379.2" r="3.1" fill="#2233e0" stroke="#0a1070" stroke-width="0.6"/>
<circle cx="720.2" cy="391.9" r="3.1" fill="#2233e0" stroke="#0a1070" stroke-width="0.6"/>
<circle cx="737.6" cy="390.6" r="3.1" fill="#2233e0" stroke="#0a1070" stroke-width="0.6"/>
<circle cx="755.0" cy="410.9" r="3.1" fill="#2233e0" stroke="#0a1070" stroke-width="0.6"/>
<circle cx="772.4" cy="413.4" r="3.1" fill="#2233e0" stroke="#0a1070" stroke-width="0.6"/>
</g>
<line x1="443.6" y1="330.6" x2="443.6" y2="609.1" stroke="#c84444" stroke-opacity="0.85" stroke-width="3.2"/>
<line x1="633" y1="330.6" x2="633" y2="609.1" stroke="#4055cc" stroke-opacity="0.9" stroke-width="2.2"/>
<rect x="441.6" y="330.6" width="330.8" height="278.5" fill="none" stroke="#1a1a1a" stroke-width="1.3"/>
<line x1="441.6" y1="609.1" x2="451.1" y2="609.1" stroke="#1a1a1a" stroke-width="1.2"/>
<line x1="772.4" y1="609.1" x2="762.9" y2="609.1" stroke="#1a1a1a" stroke-width="1.2"/>
<text x="437.20" y="613.40" font-family='"Liberation Serif", serif' font-size="15" text-anchor="end"  font-weight="normal" fill="#2a2a2a" >0</text>
<line x1="441.6" y1="558.5" x2="451.1" y2="558.5" stroke="#1a1a1a" stroke-width="1.2"/>
<line x1="772.4" y1="558.5" x2="762.9" y2="558.5" stroke="#1a1a1a" stroke-width="1.2"/>
<text x="437.20" y="562.76" font-family='"Liberation Serif", serif' font-size="15" text-anchor="end"  font-weight="normal" fill="#2a2a2a" >2</text>
<line x1="441.6" y1="507.8" x2="451.1" y2="507.8" stroke="#1a1a1a" stroke-width="1.2"/>
<line x1="772.4" y1="507.8" x2="762.9" y2="507.8" stroke="#1a1a1a" stroke-width="1.2"/>
<text x="437.20" y="512.13" font-family='"Liberation Serif", serif' font-size="15" text-anchor="end"  font-weight="normal" fill="#2a2a2a" >4</text>
<line x1="441.6" y1="457.2" x2="451.1" y2="457.2" stroke="#1a1a1a" stroke-width="1.2"/>
<line x1="772.4" y1="457.2" x2="762.9" y2="457.2" stroke="#1a1a1a" stroke-width="1.2"/>
<text x="437.20" y="461.49" font-family='"Liberation Serif", serif' font-size="15" text-anchor="end"  font-weight="normal" fill="#2a2a2a" >6</text>
<line x1="441.6" y1="406.6" x2="451.1" y2="406.6" stroke="#1a1a1a" stroke-width="1.2"/>
<line x1="772.4" y1="406.6" x2="762.9" y2="406.6" stroke="#1a1a1a" stroke-width="1.2"/>
<text x="437.20" y="410.85" font-family='"Liberation Serif", serif' font-size="15" text-anchor="end"  font-weight="normal" fill="#2a2a2a" >8</text>
<line x1="441.6" y1="355.9" x2="451.1" y2="355.9" stroke="#1a1a1a" stroke-width="1.2"/>
<line x1="772.4" y1="355.9" x2="762.9" y2="355.9" stroke="#1a1a1a" stroke-width="1.2"/>
<text x="437.20" y="360.22" font-family='"Liberation Serif", serif' font-size="15" text-anchor="end"  font-weight="normal" fill="#2a2a2a" >10</text>
<line x1="441.6" y1="609.1" x2="441.6" y2="599.6" stroke="#1a1a1a" stroke-width="1.2"/>
<line x1="441.6" y1="330.6" x2="441.6" y2="340.1" stroke="#1a1a1a" stroke-width="1.2"/>
<text x="441.60" y="623.80" font-family='"Liberation Serif", serif' font-size="15" text-anchor="middle"  font-weight="normal" fill="#2a2a2a" >0.0</text>
<line x1="507.8" y1="609.1" x2="507.8" y2="599.6" stroke="#1a1a1a" stroke-width="1.2"/>
<line x1="507.8" y1="330.6" x2="507.8" y2="340.1" stroke="#1a1a1a" stroke-width="1.2"/>
<text x="507.76" y="623.80" font-family='"Liberation Serif", serif' font-size="15" text-anchor="middle"  font-weight="normal" fill="#2a2a2a" >0.1</text>
<line x1="573.9" y1="609.1" x2="573.9" y2="599.6" stroke="#1a1a1a" stroke-width="1.2"/>
<line x1="573.9" y1="330.6" x2="573.9" y2="340.1" stroke="#1a1a1a" stroke-width="1.2"/>
<text x="573.92" y="623.80" font-family='"Liberation Serif", serif' font-size="15" text-anchor="middle"  font-weight="normal" fill="#2a2a2a" >0.2</text>
<line x1="640.1" y1="609.1" x2="640.1" y2="599.6" stroke="#1a1a1a" stroke-width="1.2"/>
<line x1="640.1" y1="330.6" x2="640.1" y2="340.1" stroke="#1a1a1a" stroke-width="1.2"/>
<text x="640.08" y="623.80" font-family='"Liberation Serif", serif' font-size="15" text-anchor="middle"  font-weight="normal" fill="#2a2a2a" >0.3</text>
<line x1="706.2" y1="609.1" x2="706.2" y2="599.6" stroke="#1a1a1a" stroke-width="1.2"/>
<line x1="706.2" y1="330.6" x2="706.2" y2="340.1" stroke="#1a1a1a" stroke-width="1.2"/>
<text x="706.24" y="623.80" font-family='"Liberation Serif", serif' font-size="15" text-anchor="middle"  font-weight="normal" fill="#2a2a2a" >0.4</text>
<line x1="772.4" y1="609.1" x2="772.4" y2="599.6" stroke="#1a1a1a" stroke-width="1.2"/>
<line x1="772.4" y1="330.6" x2="772.4" y2="340.1" stroke="#1a1a1a" stroke-width="1.2"/>
<text x="772.40" y="623.80" font-family='"Liberation Serif", serif' font-size="15" text-anchor="middle"  font-weight="normal" fill="#2a2a2a" >0.5</text>
<text transform="translate(416,469) rotate(-90)" font-family='"Liberation Serif", serif' font-size="21" font-style="italic" text-anchor="middle" fill="#222">MC</text>
<text x="607.5" y="652.2" font-family='"Liberation Serif", serif' font-size="27" font-style="italic" text-anchor="middle" fill="#222">μ</text>
<line x1="490.7" y1="213.5" x2="449.3" y2="435.8" stroke="#2a2a2a" stroke-width="1.6"/>
<polygon points="447.3,446.6 443.4,434.7 455.2,436.9" fill="#2a2a2a"/>
<line x1="600.0" y1="176.4" x2="629.4" y2="339.8" stroke="#2a2a2a" stroke-width="1.6"/>
<polygon points="631.3,350.6 623.4,340.8 635.3,338.7" fill="#2a2a2a"/>
<text x="14.60" y="22.20" font-family='"Liberation Sans", sans-serif' font-size="22" text-anchor="start"  font-weight="normal" fill="#111" >A</text>
<text x="82.60" y="33.00" font-family='"Liberation Sans", sans-serif' font-size="24.5" text-anchor="start"  font-weight="normal" fill="#1a1a1a" textLength="221" lengthAdjust="spacingAndGlyphs">Random input signal</text>
<text x="67.60" y="294.20" font-family='"Liberation Sans", sans-serif' font-size="24" text-anchor="start"  font-weight="normal" fill="#1a1a1a" textLength="255" lengthAdjust="spacingAndGlyphs">Signal delayed by <tspan font-family='"Liberation Serif", serif' font-style="italic">l</tspan>-steps</text>
<rect x="67" y="39" width="32" height="32" fill="#1c1c1c"/>
<rect x="122.45" y="39.65" width="30.7" height="30.7" fill="#fff" stroke="#2a2a2a" stroke-width="1.3"/>
<rect x="177.15" y="39.65" width="30.7" height="30.7" fill="#fff" stroke="#2a2a2a" stroke-width="1.3"/>
<rect x="231.2" y="39" width="32" height="32" fill="#1c1c1c"/>
<rect x="286" y="39" width="32" height="32" fill="#1c1c1c"/>
<line x1="83" y1="75" x2="83" y2="95.6" stroke="#333" stroke-width="1.5"/>
<polygon points="78.5,95.39999999999999 87.5,95.39999999999999 83,102.6" fill="#333"/>
<rect x="67.65" y="109.3" width="30.7" height="88.3" rx="9.5" fill="#fff" stroke="#333" stroke-width="1.3"/>
<line x1="102" y1="154" x2="110.5" y2="154" stroke="#333" stroke-width="1.5"/>
<polygon points="109.8,150.4 109.8,157.6 117.5,154" fill="#333"/>
<text x="95.20" y="94.50" font-family='"Liberation Serif", serif' font-size="23.5" text-anchor="start"  font-weight="normal" fill="#222" ><tspan font-style="italic">t</tspan><tspan font-size="18" dy="4.2">0</tspan></text>
<line x1="137.8" y1="75" x2="137.8" y2="95.6" stroke="#333" stroke-width="1.5"/>
<polygon points="133.3,95.39999999999999 142.3,95.39999999999999 137.8,102.6" fill="#333"/>
<rect x="122.45" y="109.3" width="30.7" height="88.3" rx="9.5" fill="#fff" stroke="#333" stroke-width="1.3"/>
<line x1="156.8" y1="154" x2="165.3" y2="154" stroke="#333" stroke-width="1.5"/>
<polygon points="164.60000000000002,150.4 164.60000000000002,157.6 172.3,154" fill="#333"/>
<line x1="137.8" y1="205.2" x2="137.8" y2="225.9" stroke="#333" stroke-width="1.5"/>
<polygon points="133.3,225.70000000000002 142.3,225.70000000000002 137.8,232.9" fill="#333"/>
<text x="150.00" y="94.50" font-family='"Liberation Serif", serif' font-size="23.5" text-anchor="start"  font-weight="normal" fill="#222" ><tspan font-style="italic">t</tspan><tspan font-size="18" dy="4.2">1</tspan></text>
<line x1="192.5" y1="75" x2="192.5" y2="95.6" stroke="#333" stroke-width="1.5"/>
<polygon points="188.0,95.39999999999999 197.0,95.39999999999999 192.5,102.6" fill="#333"/>
<rect x="177.15" y="109.3" width="30.7" height="88.3" rx="9.5" fill="#fff" stroke="#333" stroke-width="1.3"/>
<line x1="211.5" y1="154" x2="220.0" y2="154" stroke="#333" stroke-width="1.5"/>
<polygon points="219.3,150.4 219.3,157.6 227.0,154" fill="#333"/>
<line x1="192.5" y1="205.2" x2="192.5" y2="225.9" stroke="#333" stroke-width="1.5"/>
<polygon points="188.0,225.70000000000002 197.0,225.70000000000002 192.5,232.9" fill="#333"/>
<text x="204.70" y="94.50" font-family='"Liberation Serif", serif' font-size="23.5" text-anchor="start"  font-weight="normal" fill="#222" ><tspan font-style="italic">t</tspan><tspan font-size="18" dy="4.2">2</tspan></text>
<line x1="247.2" y1="75" x2="247.2" y2="95.6" stroke="#333" stroke-width="1.5"/>
<polygon points="242.7,95.39999999999999 251.7,95.39999999999999 247.2,102.6" fill="#333"/>
<rect x="231.85" y="109.3" width="30.7" height="88.3" rx="9.5" fill="#fff" stroke="#333" stroke-width="1.3"/>
<line x1="266.2" y1="154" x2="274.7" y2="154" stroke="#333" stroke-width="1.5"/>
<polygon points="274.0,150.4 274.0,157.6 281.7,154" fill="#333"/>
<line x1="247.2" y1="205.2" x2="247.2" y2="225.9" stroke="#333" stroke-width="1.5"/>
<polygon points="242.7,225.70000000000002 251.7,225.70000000000002 247.2,232.9" fill="#333"/>
<text x="259.40" y="94.50" font-family='"Liberation Serif", serif' font-size="23.5" text-anchor="start"  font-weight="normal" fill="#222" ><tspan font-style="italic">t</tspan><tspan font-size="18" dy="4.2">3</tspan></text>
<line x1="302" y1="75" x2="302" y2="95.6" stroke="#333" stroke-width="1.5"/>
<polygon points="297.5,95.39999999999999 306.5,95.39999999999999 302,102.6" fill="#333"/>
<rect x="286.65" y="109.3" width="30.7" height="88.3" rx="9.5" fill="#fff" stroke="#333" stroke-width="1.3"/>
<line x1="302" y1="205.2" x2="302" y2="225.9" stroke="#333" stroke-width="1.5"/>
<polygon points="297.5,225.70000000000002 306.5,225.70000000000002 302,232.9" fill="#333"/>
<text x="314.20" y="94.50" font-family='"Liberation Serif", serif' font-size="23.5" text-anchor="start"  font-weight="normal" fill="#222" ><tspan font-style="italic">t</tspan><tspan font-size="18" dy="4.2">4</tspan></text>
<rect x="121.8" y="237" width="32" height="32" fill="#1c1c1c"/>
<rect x="177.15" y="237.65" width="30.7" height="30.7" fill="#fff" stroke="#2a2a2a" stroke-width="1.3"/>
<rect x="231.85" y="237.65" width="30.7" height="30.7" fill="#fff" stroke="#2a2a2a" stroke-width="1.3"/>
<rect x="286" y="237" width="32" height="32" fill="#1c1c1c"/>
<text x="83.20" y="140.00" font-family='"Liberation Sans", sans-serif' font-size="19.5" text-anchor="middle"  font-weight="normal" fill="#111" >E</text>
<text x="83.20" y="161.00" font-family='"Liberation Sans", sans-serif' font-size="19.5" text-anchor="middle"  font-weight="normal" fill="#111" >S</text>
<text x="83.20" y="183.30" font-family='"Liberation Sans", sans-serif' font-size="19.5" text-anchor="middle"  font-weight="normal" fill="#111" >N</text>
<circle cx="331.2" cy="154" r="4.9" fill="#111"/>
<circle cx="345.2" cy="154" r="4.9" fill="#111"/>
<circle cx="359.1" cy="154" r="4.9" fill="#111"/>
<line x1="83" y1="55" x2="134.18" y2="247.72" stroke="#cc4477" stroke-width="0.7" stroke-opacity="0.85"/>
<polygon points="135.10,251.20 132.53,248.16 135.82,247.28" fill="#c83064"/>
<line x1="137.8" y1="55" x2="190.94" y2="248.13" stroke="#cc4477" stroke-width="0.7" stroke-opacity="0.85"/>
<polygon points="191.90,251.60 189.31,248.58 192.58,247.68" fill="#c83064"/>
<line x1="192.3" y1="55" x2="245.64" y2="248.03" stroke="#cc4477" stroke-width="0.7" stroke-opacity="0.85"/>
<polygon points="246.60,251.50 244.00,248.48 247.28,247.58" fill="#c83064"/>
<text x="22.30" y="62.00" font-family='"Liberation Serif", serif' font-size="26.5" text-anchor="start"  font-weight="normal" fill="#111" textLength="40.5" lengthAdjust="spacing"><tspan font-weight="bold" font-style="italic">u</tspan>(<tspan font-style="italic">t</tspan>)</text>
<text x="22.50" y="160.00" font-family='"Liberation Serif", serif' font-size="26.5" text-anchor="start"  font-weight="normal" fill="#111" textLength="39.7" lengthAdjust="spacing"><tspan font-weight="bold" font-style="italic">x</tspan>(<tspan font-style="italic">t</tspan>)</text>
<text x="19.50" y="260.50" font-family='"Liberation Serif", serif' font-size="26.5" text-anchor="start"  font-weight="normal" fill="#111" textLength="42.5" lengthAdjust="spacing"><tspan font-weight="bold" font-style="italic">y</tspan><tspan font-style="italic" font-size="17" dy="4">l</tspan><tspan dy="-4">(</tspan><tspan font-style="italic">t</tspan>)</text>
</svg>
</body></html>
